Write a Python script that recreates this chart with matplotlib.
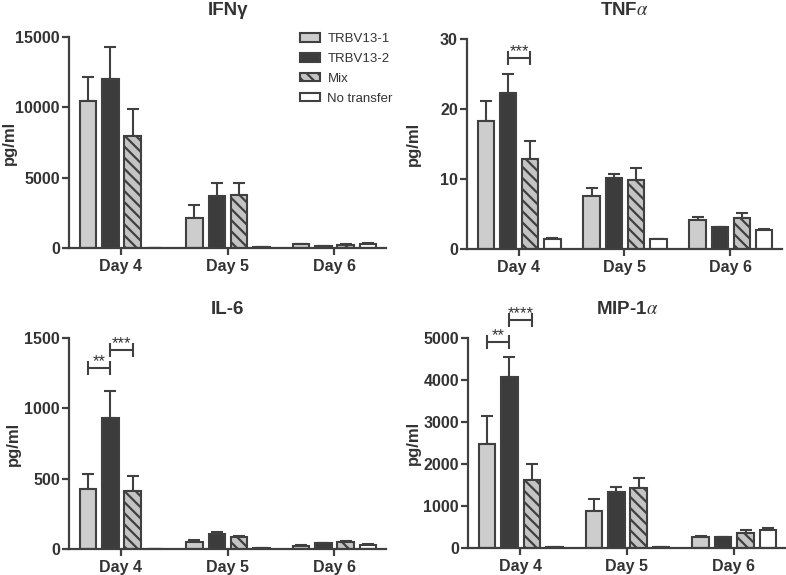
import numpy as np
import matplotlib
matplotlib.use('Agg')
import matplotlib.pyplot as plt

plt.rcParams['font.family'] = ['Liberation Sans', 'DejaVu Sans']
plt.rcParams['mathtext.fontset'] = 'stix'
plt.rcParams['hatch.linewidth'] = 1.6

days = ['Day 4', 'Day 5', 'Day 6']
groups = ['TRBV13-1', 'TRBV13-2', 'Mix', 'No transfer']

# rows = groups, columns = days
ifng_mean = [[10430, 2130, 250], [12000, 3700, 140], [7940, 3740, 210], [0, 60, 280]]
ifng_err = [[1700, 950, 60], [2270, 900, 30], [1960, 900, 40], [0, 0, 60]]

tnf_mean = [[18.26, 7.56, 4.14], [22.35, 10.18, 3.09], [12.84, 9.84, 4.42], [1.47, 1.47, 2.66]]
tnf_err = [[2.84, 1.19, 0.36], [2.61, 0.57, 0.11], [2.52, 1.66, 0.78], [0.13, 0.0, 0.14]]

il6_mean = [[426, 52, 24], [931, 109, 40], [414, 88, 47], [3, 5, 31]]
il6_err = [[107, 12, 4], [190, 14, 4], [107, 4, 10], [0, 0, 4]]

mip_mean = [[2484, 881, 262], [4079, 1333, 262], [1627, 1421, 357], [15, 15, 421]]
mip_err = [[651, 278, 24], [469, 119, 10], [365, 246, 80], [0, 0, 47]]

# significance brackets: (day index, group a, group b, height, label)
tnf_sig = [(0, 1, 2, 27.3, '***')]
il6_sig = [(0, 0, 1, 1285, '**'), (0, 1, 2, 1412, '***')]
mip_sig = [(0, 0, 1, 4905, '**'), (0, 1, 2, 5421, '****')]

ink = '#404040'
txt = '#333333'
faces = ['#cdcdcd', '#3c3c3c', '#c4c4c4', '#ffffff']
hatches = [None, None, '\\\\\\', None]
offsets = [-0.31, -0.10, 0.11, 0.32]
width = 0.155

fig = plt.figure(figsize=(7.86, 5.75), dpi=100)
axes = [
    fig.add_axes([0.0878, 0.5687, 0.4033, 0.3670]),
    fig.add_axes([0.5941, 0.5670, 0.4008, 0.3652]),
    fig.add_axes([0.0878, 0.0452, 0.4033, 0.3670]),
    fig.add_axes([0.5954, 0.0470, 0.4046, 0.3652]),
]
panels = [
    ('IFN\u03b3', ifng_mean, ifng_err, [], 15000, [0, 5000, 10000, 15000], -0.164, 16),
    ('TNF$\\alpha$', tnf_mean, tnf_err, tnf_sig, 30, [0, 10, 20, 30], -0.146, 17),
    ('IL-6', il6_mean, il6_err, il6_sig, 1500, [0, 500, 1000, 1500], -0.151, 17),
    ('MIP-1$\\alpha$', mip_mean, mip_err, mip_sig, 5000, [0, 1000, 2000, 3000, 4000, 5000], -0.148, 17),
]

x = np.arange(len(days))
for ax, (title, mean, err, sig, ymax, yticks, labx, pad) in zip(axes, panels):
    for i, g in enumerate(groups):
        ax.bar(x + offsets[i], mean[i], width, color=faces[i], edgecolor=ink,
               linewidth=1.5, hatch=hatches[i], label=g, zorder=2)
        ax.errorbar(x + offsets[i], mean[i], yerr=[np.zeros(3), err[i]], fmt='none',
                    ecolor=ink, elinewidth=1.5, capsize=4, capthick=1.5, zorder=1)
    for d, a, b, h, lab in sig:
        xa = x[d] + offsets[a]
        xb = x[d] + offsets[b]
        ax.errorbar([(xa + xb) / 2], [h], xerr=[(xb - xa) / 2], fmt='none', ecolor=ink,
                    elinewidth=1.5, capsize=5, capthick=1.5, clip_on=False)
        ax.annotate(lab, ((xa + xb) / 2, h), xytext=(0, 1.5), textcoords='offset points',
                    ha='center', va='baseline', fontsize=12, color=txt,
                    annotation_clip=False)
    ax.set_xlim(-0.488, 2.488)
    ax.set_ylim(0, ymax)
    ax.set_yticks(yticks)
    ax.set_xticks(x)
    ax.set_xticklabels(days)
    for s in ['top', 'right']:
        ax.spines[s].set_visible(False)
    for s in ['left', 'bottom']:
        ax.spines[s].set_linewidth(1.6)
        ax.spines[s].set_color(ink)
    ax.tick_params(direction='out', length=5, width=1.6, color=ink, labelcolor=txt,
                   labelsize=11.5, pad=1.5)
    ax.tick_params(axis='x', pad=3)
    for lbl in ax.get_xticklabels() + ax.get_yticklabels():
        lbl.set_fontweight('bold')
    ax.set_ylabel('pg/ml', fontsize=12, fontweight='bold', color=txt)
    ax.yaxis.set_label_coords(labx, 0.5)
    ax.set_title(title, fontsize=13.5, fontweight='bold', color=txt, pad=pad)

leg = axes[0].legend(loc='upper left', bbox_to_anchor=(0.73, 1.02), frameon=False,
                     fontsize=9.5, handlelength=1.45, handleheight=0.65, labelspacing=0.6,
                     handletextpad=0.6, borderpad=0, borderaxespad=0)
for t in leg.get_texts():
    t.set_color(txt)

fig.savefig('out.png', dpi=100)
